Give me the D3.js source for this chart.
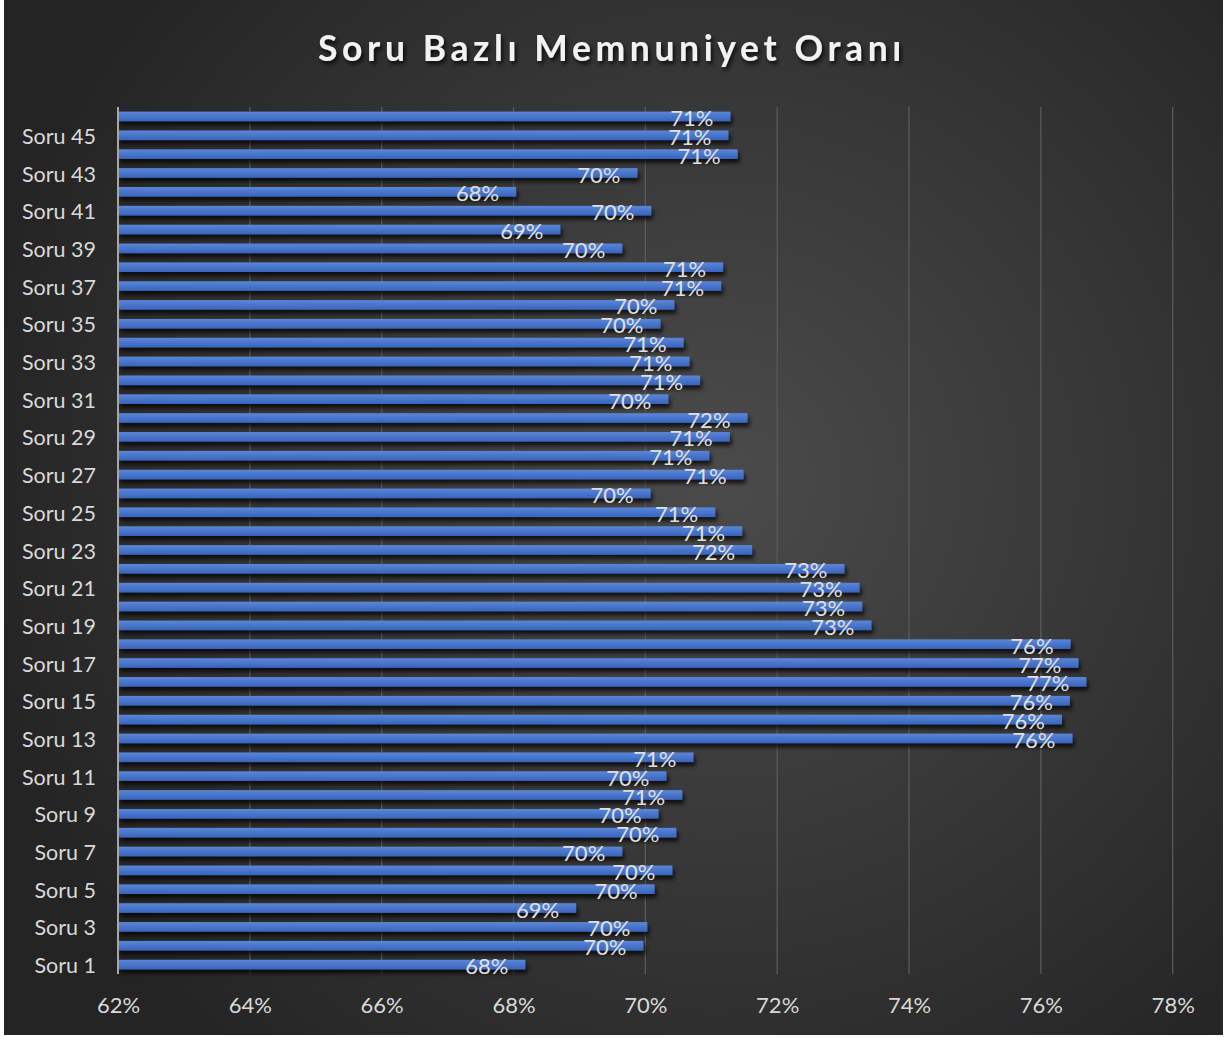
<!DOCTYPE html>
<html>
<head>
<meta charset="utf-8">
<script src="https://cdn.jsdelivr.net/npm/d3@7"></script>
<style>
  body { margin: 0; background: #fff; }
  svg text { font-family: Lato, "Open Sans", sans-serif; }
</style>
</head>
<body>
<div class="chart"></div>
<script>
// categories (bottom to top) and satisfaction rates in percent
const categories = ["Soru 1","Soru 2","Soru 3","Soru 4","Soru 5","Soru 6","Soru 7","Soru 8","Soru 9","Soru 10",
  "Soru 11","Soru 12","Soru 13","Soru 14","Soru 15","Soru 16","Soru 17","Soru 18","Soru 19","Soru 20",
  "Soru 21","Soru 22","Soru 23","Soru 24","Soru 25","Soru 26","Soru 27","Soru 28","Soru 29","Soru 30",
  "Soru 31","Soru 32","Soru 33","Soru 34","Soru 35","Soru 36","Soru 37","Soru 38","Soru 39","Soru 40",
  "Soru 41","Soru 42","Soru 43","Soru 44","Soru 45","Soru 46"]
const values = [68.18, 69.97, 70.03, 68.95, 70.14, 70.41, 69.65, 70.47, 70.20, 70.56,
  70.32, 70.73, 76.48, 76.32, 76.44, 76.69, 76.57, 76.45, 73.43, 73.29,
  73.25, 73.02, 71.62, 71.47, 71.06, 70.08, 71.49, 70.97, 71.28, 71.55,
  70.35, 70.83, 70.67, 70.58, 70.23, 70.44, 71.15, 71.18, 69.65, 68.71,
  70.09, 68.04, 69.88, 71.40, 71.26, 71.29]
const xTicks = [62, 64, 66, 68, 70, 72, 74, 76, 78]
const title = "Soru Bazlı Memnuniyet Oranı"

const data = categories.map((c, i) => ({cat: c, val: values[i]}))

let w = 1231
let h = 1037
let mLeft = 118, mRight = 1172.7, mTop = 107, mBottom = 974

let svg = d3.select(".chart")
  .append("svg")
  .attr("width", w)
  .attr("height", h)

let defs = svg.append("defs")

let bg = defs.append("radialGradient")
  .attr("id", "bg")
  .attr("gradientUnits", "userSpaceOnUse")
  .attr("cx", 720).attr("cy", 480).attr("r", 760)
bg.append("stop").attr("offset", "0%").attr("stop-color", "#4b4b4b")
bg.append("stop").attr("offset", "100%").attr("stop-color", "#242424")

let barGrad = defs.append("linearGradient")
  .attr("id", "barGrad")
  .attr("x1", 0).attr("y1", 0).attr("x2", 0).attr("y2", 1)
barGrad.append("stop").attr("offset", "0%").attr("stop-color", "#5b87d8")
barGrad.append("stop").attr("offset", "45%").attr("stop-color", "#4a77cc")
barGrad.append("stop").attr("offset", "100%").attr("stop-color", "#3964bd")

let shadow = defs.append("filter")
  .attr("id", "shadow")
  .attr("x", "-5%").attr("y", "-50%").attr("width", "110%").attr("height", "250%")
shadow.append("feDropShadow")
  .attr("dx", 2).attr("dy", 4).attr("stdDeviation", 2.2)
  .attr("flood-color", "#000").attr("flood-opacity", 0.75)

let titleShadow = defs.append("filter").attr("id", "tshadow")
titleShadow.append("feDropShadow")
  .attr("dx", 2).attr("dy", 3).attr("stdDeviation", 2)
  .attr("flood-color", "#000").attr("flood-opacity", 0.8)

svg.append("rect")
  .attr("x", 4).attr("y", 0)
  .attr("width", 1219).attr("height", 1035)
  .attr("fill", "url(#bg)")

// title
svg.append("text")
  .text(title)
  .attr("x", 612)
  .attr("y", 61)
  .attr("text-anchor", "middle")
  .style("font-size", "35.5px")
  .style("font-weight", "bold")
  .style("letter-spacing", "4.6px")
  .attr("fill", "#f2f2f2")
  .attr("filter", "url(#tshadow)")

const xScale = d3.scaleLinear()
  .domain([62, 78])
  .range([mLeft, mRight])

const yScale = d3.scaleBand()
  .domain(categories.slice().reverse())
  .range([mTop, mBottom])
  .paddingInner(0.49)
  .paddingOuter(0.245)

// gridlines
svg.append("g")
  .selectAll("line")
  .data(xTicks.slice(1))
  .enter()
  .append("line")
  .attr("x1", d => xScale(d)).attr("x2", d => xScale(d))
  .attr("y1", mTop).attr("y2", mBottom)
  .attr("stroke", "#5a5a5a")
  .attr("stroke-width", 1.3)

// x axis labels
const xAxis = d3.axisBottom(xScale)
  .tickValues(xTicks)
  .tickFormat(d => d + "%")
  .tickSize(0)
  .tickPadding(23)

let gx = svg.append("g")
  .attr("transform", "translate(0," + mBottom + ")")
  .call(xAxis)
gx.select(".domain").remove()
gx.selectAll("text")
  .attr("fill", "#d9d9d9")
  .style("font-size", "22px")

// bars
svg.append("g")
  .selectAll("rect")
  .data(data)
  .enter()
  .append("rect")
  .attr("x", xScale(62))
  .attr("y", d => yScale(d.cat))
  .attr("width", d => xScale(d.val) - xScale(62))
  .attr("height", yScale.bandwidth())
  .attr("fill", "url(#barGrad)")
  .attr("filter", "url(#shadow)")

// y axis: every other category labelled
const yAxis = d3.axisLeft(yScale)
  .tickFormat(d => (categories.indexOf(d) % 2 === 0) ? d : "")
  .tickSize(0)
  .tickPadding(22)

let gy = svg.append("g")
  .attr("transform", "translate(" + mLeft + ",0)")
  .call(yAxis)
gy.select(".domain").remove()
gy.selectAll("text")
  .attr("fill", "#d9d9d9")
  .attr("dy", "0.4em")
  .style("font-size", "21.5px")

// axis line
svg.append("line")
  .attr("x1", mLeft).attr("x2", mLeft)
  .attr("y1", mTop).attr("y2", mBottom)
  .attr("stroke", "#a6a6a6")
  .attr("stroke-width", 2)

// data labels
svg.append("g")
  .selectAll("text")
  .data(data)
  .enter()
  .append("text")
  .text(d => Math.round(d.val) + "%")
  .attr("x", d => xScale(d.val) - 17)
  .attr("y", d => yScale(d.cat) + yScale.bandwidth() / 2 + 4)
  .attr("text-anchor", "end")
  .attr("dominant-baseline", "middle")
  .attr("fill", "#e0e0e0")
  .style("font-size", "22px")
</script>
</body>
</html>
